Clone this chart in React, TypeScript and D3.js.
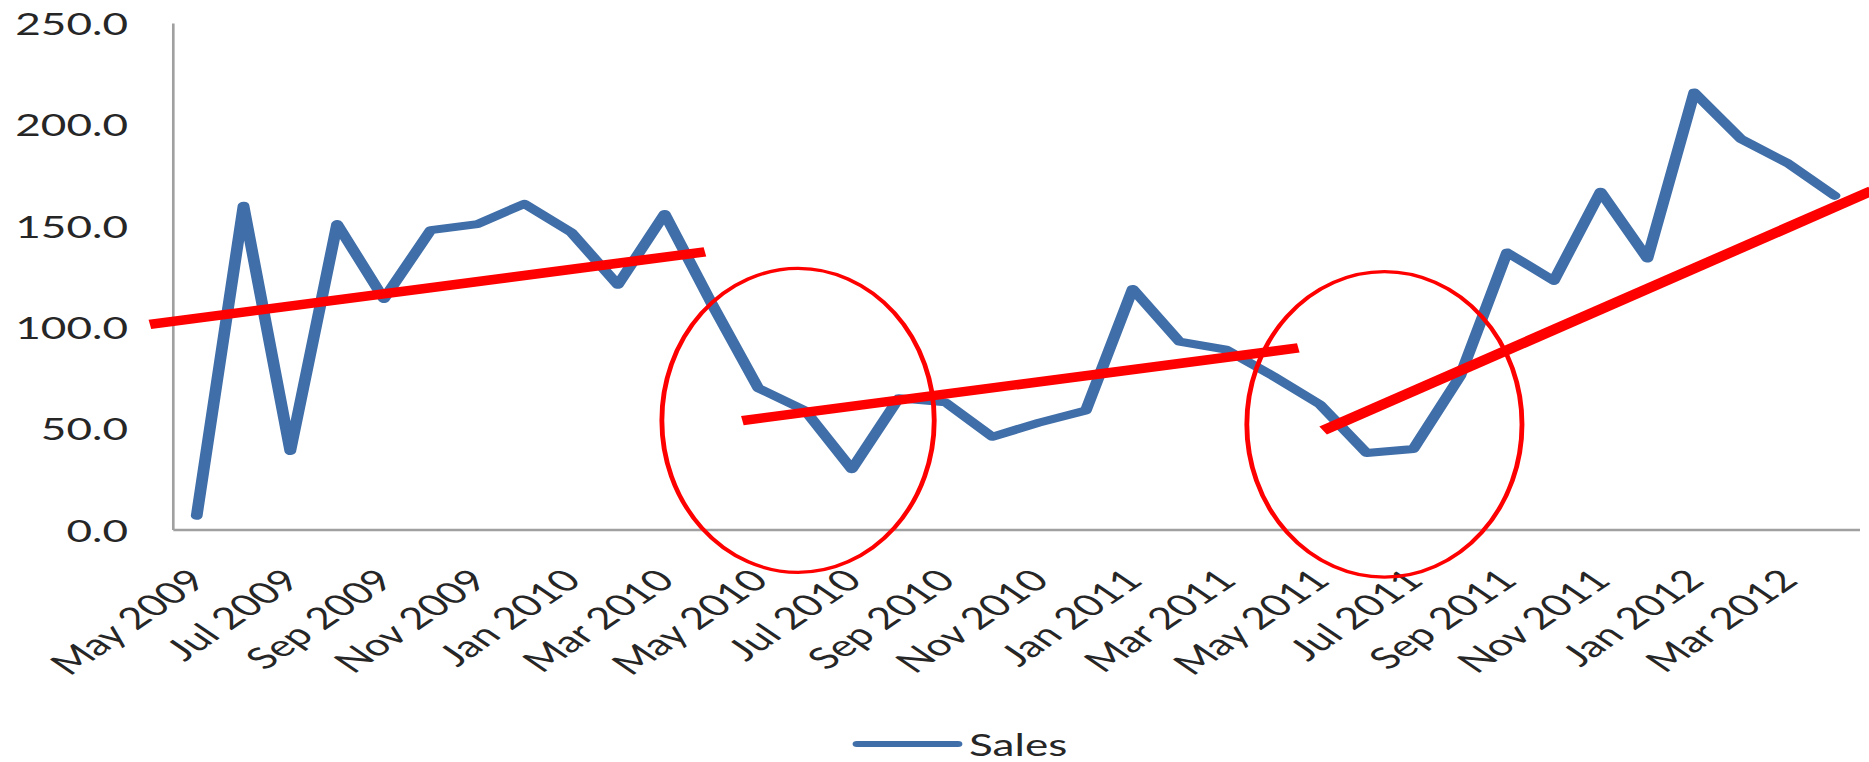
import React from "react";
import * as d3 from "d3";

// ---- data ----
const categories = [
  "May 2009", "Jun 2009", "Jul 2009", "Aug 2009", "Sep 2009", "Oct 2009",
  "Nov 2009", "Dec 2009", "Jan 2010", "Feb 2010", "Mar 2010", "Apr 2010",
  "May 2010", "Jun 2010", "Jul 2010", "Aug 2010", "Sep 2010", "Oct 2010",
  "Nov 2010", "Dec 2010", "Jan 2011", "Feb 2011", "Mar 2011", "Apr 2011",
  "May 2011", "Jun 2011", "Jul 2011", "Aug 2011", "Sep 2011", "Oct 2011",
  "Nov 2011", "Dec 2011", "Jan 2012", "Feb 2012", "Mar 2012", "Apr 2012",
];

const sales = [
  7, 160, 39, 151, 114, 148, 151, 161, 147, 121, 156, 112,
  70, 59, 30, 65, 63, 46, 53, 59, 119, 93, 89, 76,
  62, 38, 40, 76, 137, 123, 167, 134, 216, 193, 181, 165,
];

const tickLabels = [
  "May 2009", "Jul 2009", "Sep 2009", "Nov 2009", "Jan 2010", "Mar 2010",
  "May 2010", "Jul 2010", "Sep 2010", "Nov 2010", "Jan 2011", "Mar 2011",
  "May 2011", "Jul 2011", "Sep 2011", "Nov 2011", "Jan 2012", "Mar 2012",
];

const yTicks = [0, 50, 100, 150, 200, 250];

// hand-drawn annotations (in category-index / value units)
const trendStartIndex = [-1.0, 11.66, 24.07];
const trendStartValue = [101.5, 54.0, 49.1];
const trendEndIndex = [10.86, 23.54, 35.8];
const trendEndValue = [137.3, 89.9, 167.5];

const circleCenterIndex = [12.85, 25.38];
const circleCenterValue = [54.1, 52.1];
const circleRadiusIndex = [2.91, 2.94];
const circleRadiusValue = [75, 75.4];

const seriesName = "Sales";

// ---- layout ----
const W = 1869;
const H = 762;
const S = 1.47; // horizontal stretch of the whole picture
const FONT = "Lato, 'Open Sans', sans-serif";
const BLUE = "#3f6ea9";
const RED = "#ff0000";
const AXIS = "#a0a0a0";
const TEXT = "#262626";

export default function App() {
  const x = d3
    .scaleLinear()
    .domain([-0.5, categories.length - 0.5])
    .range([173.3 / S, 1858 / S]);
  const y = d3.scaleLinear().domain([0, 250]).range([530, 23.5]);

  const line = d3
    .line<number>()
    .x((_, i) => x(i))
    .y((d) => y(d));

  const fmt = d3.format(".1f");

  return (
    <svg
      width={W}
      height={H}
      style={{ position: "absolute", left: 0, top: 0, background: "#fff" }}
    >
      <g transform={`scale(${S},1)`}>
        {/* axes */}
        <line
          x1={x(-0.5)}
          x2={x(-0.5)}
          y1={y(250)}
          y2={y(0)}
          stroke={AXIS}
          strokeWidth={1.8}
        />
        <line
          x1={x(-0.5)}
          x2={1860 / S}
          y1={y(0)}
          y2={y(0)}
          stroke={AXIS}
          strokeWidth={2.6}
        />

        {/* y tick labels */}
        {yTicks.map((t) => (
          <text
            key={t}
            x={128 / S}
            y={y(t)}
            textAnchor="end"
            dominantBaseline="central"
            fontFamily={FONT}
            fontSize={30}
            fill={TEXT}
          >
            {fmt(t)}
          </text>
        ))}

        {/* x tick labels */}
        {tickLabels.map((lab) => {
          const i = categories.indexOf(lab);
          return (
            <text
              key={lab}
              transform={`translate(${x(i)},574) rotate(-45)`}
              textAnchor="end"
              dominantBaseline="central"
              fontFamily={FONT}
              fontSize={30}
              fill={TEXT}
            >
              {lab}
            </text>
          );
        })}

        {/* series */}
        <path
          d={line(sales) || ""}
          fill="none"
          stroke={BLUE}
          strokeWidth={8}
          strokeLinejoin="round"
          strokeLinecap="round"
        />

        {/* trend annotations */}
        {trendStartIndex.map((s, k) => (
          <line
            key={k}
            x1={x(s)}
            y1={y(trendStartValue[k])}
            x2={x(trendEndIndex[k])}
            y2={y(trendEndValue[k])}
            stroke={RED}
            strokeWidth={9.5}
          />
        ))}

        {/* circle annotations */}
        {circleCenterIndex.map((c, k) => (
          <ellipse
            key={k}
            cx={x(c)}
            cy={y(circleCenterValue[k])}
            rx={x(c + circleRadiusIndex[k]) - x(c)}
            ry={y(0) - y(circleRadiusValue[k])}
            fill="none"
            stroke={RED}
            strokeWidth={3.3}
          />
        ))}

        {/* legend */}
        <line
          x1={857 / S}
          x2={958 / S}
          y1={744}
          y2={744}
          stroke={BLUE}
          strokeWidth={6}
          strokeLinecap="round"
        />
        <text
          x={969 / S}
          y={744}
          dominantBaseline="central"
          fontFamily={FONT}
          fontSize={30}
          fill={TEXT}
        >
          {seriesName}
        </text>
      </g>
    </svg>
  );
}
